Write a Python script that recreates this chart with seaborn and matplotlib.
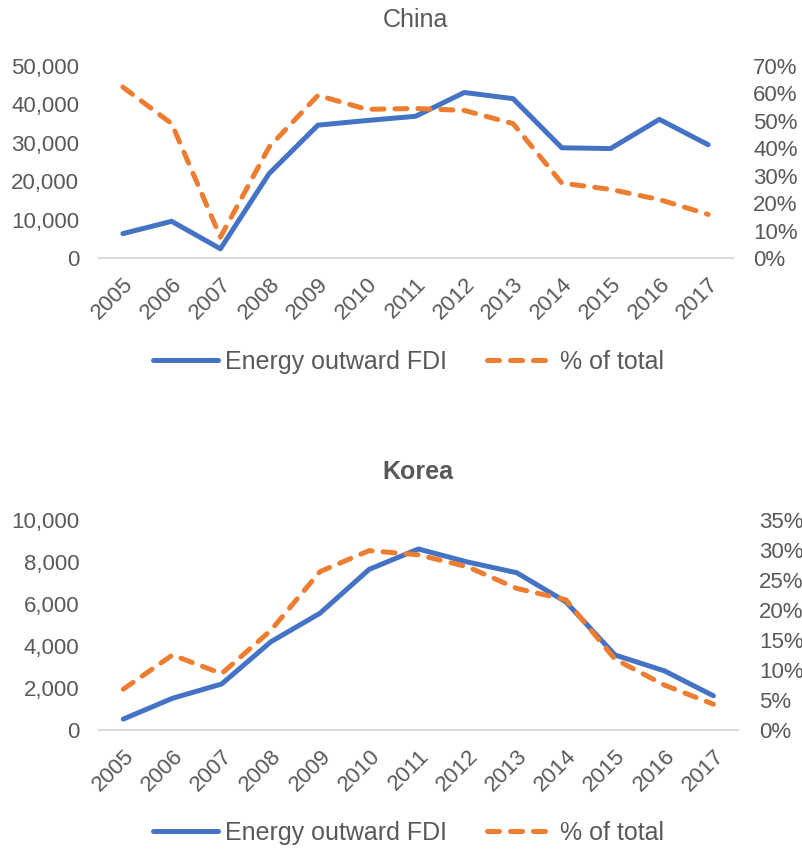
import numpy as np
import pandas as pd
import matplotlib
matplotlib.use('Agg')
import matplotlib.pyplot as plt
import matplotlib.ticker as mticker
import seaborn as sns

# ── Data ─────────────────────────────────────────────────────────────
years = [2005, 2006, 2007, 2008, 2009, 2010, 2011,
         2012, 2013, 2014, 2015, 2016, 2017]

china_fdi = [6350, 9550, 2400, 22000, 34600, 35800, 36900,
             43100, 41500, 28700, 28500, 36100, 29500]
china_pct = [0.623, 0.490, 0.076, 0.405, 0.593, 0.542, 0.545,
             0.538, 0.490, 0.273, 0.250, 0.213, 0.159]

korea_fdi = [520, 1510, 2190, 4200, 5560, 7650, 8620,
             8000, 7490, 6100, 3570, 2820, 1630]
korea_pct = [0.068, 0.125, 0.094, 0.166, 0.264, 0.299, 0.292,
             0.272, 0.236, 0.217, 0.118, 0.075, 0.043]

BLUE = '#4472C4'
ORANGE = '#ED7D31'
GREY_TXT = '#595959'
GREY_LINE = '#D9D9D9'

sns.set_style('white')
plt.rcParams['font.family'] = ['Liberation Sans', 'DejaVu Sans']
plt.rcParams['text.color'] = GREY_TXT

fig = plt.figure(figsize=(8.02, 8.52), dpi=100)
W, H = 802, 852


def panel(rect, df, ymax, pmax, pstep, title, bold, title_y, legend_y):
    l, t, r, b = rect
    ax = fig.add_axes([l / W, (H - b) / H, (r - l) / W, (b - t) / H])
    ax2 = ax.twinx()

    sns.lineplot(data=df, x='year', y='fdi', ax=ax, color=BLUE, lw=3.6,
                 solid_capstyle='round', label='Energy outward FDI', legend=False)
    sns.lineplot(data=df, x='year', y='pct', ax=ax2, color=ORANGE, lw=3.6,
                 label='% of total', legend=False)
    for ln in ax2.get_lines():
        ln.set_dashes((2.4, 2.2))
        ln.set_dash_capstyle('round')

    ax.set_xlim(years[0] - 0.5, years[-1] + 0.5)
    ax.set_ylim(0, ymax)
    ax2.set_ylim(0, pmax)
    ax.set_yticks(np.linspace(0, ymax, 6))
    ax2.set_yticks(np.arange(0, pmax + 1e-9, pstep))
    ax.yaxis.set_major_formatter(mticker.StrMethodFormatter('{x:,.0f}'))
    ax2.yaxis.set_major_formatter(mticker.PercentFormatter(1.0, decimals=0))
    ax.set_xticks(years)
    ax.set_xticklabels([str(y) for y in years], rotation=45, ha='right',
                       rotation_mode='anchor')

    for a in (ax, ax2):
        for s in a.spines.values():
            s.set_visible(False)
        a.tick_params(length=0, labelsize=16, colors=GREY_TXT)
        a.set_xlabel('')
        a.set_ylabel('')
    ax.tick_params(axis='y', pad=14)
    ax2.tick_params(axis='y', pad=15)
    ax.tick_params(axis='x', pad=11)
    ax.spines['bottom'].set_visible(True)
    ax.spines['bottom'].set_color(GREY_LINE)
    ax.spines['bottom'].set_linewidth(1.5)

    # title sits well above the plot area, as in the source figure
    fig.text((l + r) / 2 / W, (H - title_y) / H, title, ha='center', va='center',
             fontsize=18, color=GREY_TXT, fontweight='bold' if bold else 'normal')

    handles = ax.get_lines()[:1] + ax2.get_lines()[:1]
    leg = fig.legend(handles, ['Energy outward FDI', '% of total'],
                     loc='center', bbox_to_anchor=(0.509, (H - legend_y) / H),
                     ncol=2, frameon=False, fontsize=18, handlelength=2.6,
                     handletextpad=0.3, columnspacing=1.6)
    for txt in leg.get_texts():
        txt.set_color(GREY_TXT)
    return ax


china = pd.DataFrame({'year': years, 'fdi': china_fdi, 'pct': china_pct})
korea = pd.DataFrame({'year': years, 'fdi': korea_fdi, 'pct': korea_pct})

panel((98.5, 66, 732.5, 258), china, 50000, 0.70, 0.10, 'China', False, 20, 362)
panel((98.7, 520, 738, 730), korea, 10000, 0.35, 0.05, 'Korea', True, 472, 833)

fig.savefig('out.png', dpi=100)
